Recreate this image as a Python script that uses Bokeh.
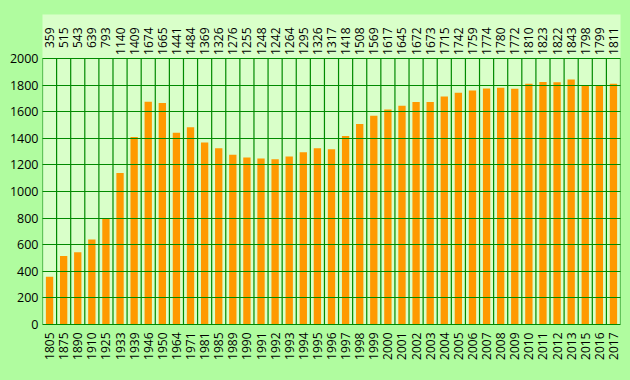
import math
from bokeh.plotting import figure
from bokeh.models import Range1d, FixedTicker
from bokeh.core.properties import value
from bokeh.embed import file_html
from bokeh.resources import INLINE
from jinja2 import Template

years = ["1805", "1875", "1890", "1910", "1925", "1933", "1939", "1946", "1950", "1964",
         "1971", "1981", "1985", "1989", "1990", "1991", "1992", "1993", "1994", "1995",
         "1996", "1997", "1998", "1999", "2000", "2001", "2002", "2003", "2004", "2005",
         "2006", "2007", "2008", "2009", "2010", "2011", "2012", "2013", "2015", "2016", "2017"]
population = [359, 515, 543, 639, 793, 1140, 1409, 1674, 1665, 1441,
              1484, 1369, 1326, 1276, 1255, 1248, 1242, 1264, 1295, 1326,
              1317, 1418, 1508, 1569, 1617, 1645, 1672, 1673, 1715, 1742,
              1759, 1774, 1780, 1772, 1810, 1823, 1822, 1843, 1798, 1799, 1811]
y_ticks = [0, 200, 400, 600, 800, 1000, 1200, 1400, 1600, 1800, 2000]

OUTER = "#b0fc9f"
PANEL = "#d9ffc9"
GRID = "#008a00"
FONT = "Open Sans"

n = len(years)
idx = list(range(n))
y_max = y_ticks[-1]
y_top = y_max * 310 / 266  # room above the 2000 line for the value labels

p = figure(width=630, height=380, output_backend="svg", toolbar_location=None,
           x_range=Range1d(-0.5, n - 0.5), y_range=Range1d(0, y_top),
           min_border_left=42, min_border_right=10, min_border_top=14, min_border_bottom=56)
p.background_fill_color = PANEL
p.border_fill_color = OUTER
p.outline_line_color = None

# bars
p.vbar(x=idx, top=population, width=0.52, fill_color="#ff9900", line_color=None)

# vertical grid at category boundaries (only up to 2000)
bounds = [i - 0.5 for i in range(n + 1)]
p.segment(x0=bounds, y0=[0] * len(bounds), x1=bounds, y1=[y_max] * len(bounds),
          line_color=GRID, line_width=1.2)

# value labels along the top of the panel
p.text(x=idx, y=[y_top] * n, text=[str(v) for v in population], angle=math.pi / 2,
       text_align="right", text_baseline="middle", y_offset=13,
       text_font=value(FONT), text_font_size="12px", text_color="black")

# y axis
p.yaxis.ticker = FixedTicker(ticks=y_ticks)
p.yaxis.axis_line_color = None
p.yaxis.major_tick_line_color = None
p.yaxis.major_tick_out = 0
p.yaxis.major_tick_in = 0
p.yaxis.minor_tick_line_color = None
p.yaxis.major_label_standoff = 4
p.yaxis.major_label_text_font = FONT
p.yaxis.major_label_text_font_size = "12.5px"
p.yaxis.major_label_text_color = "black"

# horizontal grid drawn over bars
p.ygrid.ticker = FixedTicker(ticks=y_ticks)
p.ygrid.grid_line_color = GRID
p.ygrid.grid_line_width = 1.2
p.ygrid.level = "overlay"
p.xgrid.grid_line_color = None

# x axis
p.xaxis.ticker = FixedTicker(ticks=idx)
p.xaxis.major_label_overrides = {i: y for i, y in zip(idx, years)}
p.xaxis.major_label_orientation = math.pi / 2
p.xaxis.axis_line_color = GRID
p.xaxis.axis_line_width = 1.2
p.xaxis.major_tick_line_color = None
p.xaxis.major_tick_out = 0
p.xaxis.major_tick_in = 0
p.xaxis.minor_tick_line_color = None
p.xaxis.major_label_standoff = 8
p.xaxis.major_label_text_font = FONT
p.xaxis.major_label_text_font_size = "12px"
p.xaxis.major_label_text_color = "black"

tmpl = Template("""{% extends base %}
{% block preamble %}<style>html, body { background: """ + OUTER + """; margin: 0; padding: 0; overflow: hidden; }</style>{% endblock %}""")
html = file_html(p, INLINE, template=tmpl)
open("out.html", "w").write(html)
